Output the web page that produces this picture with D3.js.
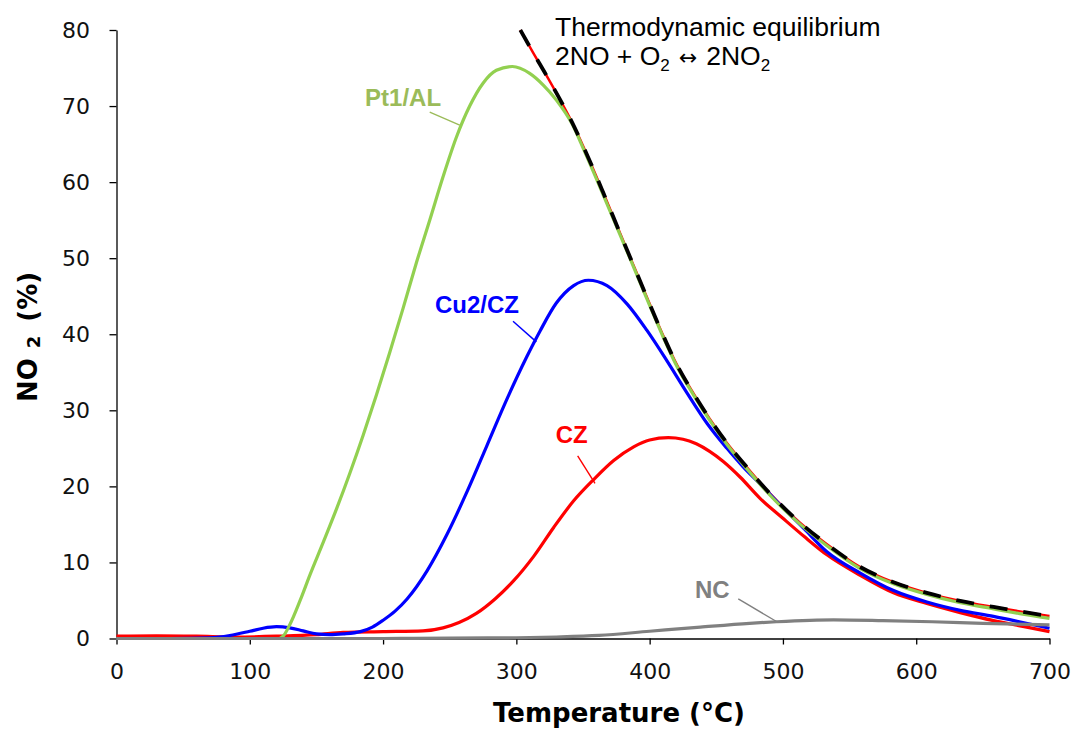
<!DOCTYPE html>
<html>
<head>
<meta charset="utf-8">
<script src="https://cdn.jsdelivr.net/npm/d3@7"></script>
<style>
  body { margin: 0; background: #fff; }
  .tick text { font-family: 'DejaVu Sans', Verdana, sans-serif; font-size: 22px; fill: #111; }
  .axis-title { font-family: 'DejaVu Sans', Verdana, sans-serif; font-weight: bold; font-size: 26px; fill: #000; }
  .series-label { font-family: 'Liberation Sans', Arial, sans-serif; font-weight: bold; font-size: 24px; }
  .note { font-family: 'Liberation Sans', Arial, sans-serif; font-size: 26.5px; fill: #000; }
</style>
</head>
<body>
<svg id="chart" width="1076" height="731"></svg>
<script>
// Tick values
const xTicks = [0, 100, 200, 300, 400, 500, 600, 700];
const yTicks = [0, 10, 20, 30, 40, 50, 60, 70, 80];

// Series: [temperature (°C), NO2 (%)]
const pt1AL = [
  [0, 0], [60, 0], [122, 0], [125, 0.3], [130, 1.8], [138, 5.1], [145, 8.3], [155, 12.6],
  [165, 17], [175, 21.7], [185, 26.7], [195, 32], [205, 37.6], [215, 43.4], [225, 49.4],
  [235, 55], [245, 60.7], [255, 65.9], [265, 70], [275, 73], [285, 74.7], [297, 75.2],
  [310, 74.3], [320, 72.8], [330, 70.8], [342, 67.6], [351, 64.1], [365, 58.4], [378, 53],
  [389, 48.4], [400, 43.8], [410, 39.7], [421, 35.6], [433, 32], [445, 28.7], [458, 25.5],
  [473, 22.3], [490, 18.9], [513, 15], [533, 12.2], [558, 9.2], [583, 7.2], [608, 5.8],
  [633, 4.7], [658, 3.9], [680, 3.2], [700, 2.65]
];

const cu2CZ = [
  [0, 0], [40, 0], [70, 0.1], [85, 0.4], [100, 0.95], [110, 1.35], [120, 1.55], [130, 1.4],
  [140, 1.0], [150, 0.6], [160, 0.5], [170, 0.6], [183, 0.9], [192, 1.5], [200, 2.4],
  [209, 3.6], [218, 5.2], [233, 8.9], [248, 13.7], [263, 19.3], [278, 25.4], [293, 31.5],
  [308, 37.1], [318, 40.5], [330, 44.1], [343, 46.4], [354, 47.1], [368, 46.4], [383, 44],
  [398, 40.5], [413, 36.5], [428, 32.3], [443, 28.3], [458, 25], [470, 22.6], [483, 20.3],
  [500, 17.2], [516, 14.4], [533, 11.4], [558, 8.6], [583, 6.3], [608, 4.8], [633, 3.7],
  [658, 2.9], [680, 2.1], [700, 1.35]
];

const cz = [
  [0, 0.3], [30, 0.35], [60, 0.3], [90, 0.2], [120, 0.3], [150, 0.5], [170, 0.8], [200, 0.9],
  [230, 1.0], [245, 1.4], [257, 2.1], [270, 3.3], [284, 5.2], [298, 7.6], [313, 10.8],
  [328, 14.6], [343, 18.1], [358, 20.9], [373, 23.4], [388, 25.2], [400, 26.1], [414, 26.4],
  [425, 26.2], [435, 25.6], [445, 24.6], [455, 23.3], [468, 21.2], [483, 18.4], [500, 15.8],
  [516, 13.4], [533, 11], [558, 8.3], [583, 6], [608, 4.6], [633, 3.4], [658, 2.35],
  [680, 1.6], [700, 0.9]
];

const nc = [
  [0, 0], [100, 0], [200, 0], [250, 0.05], [300, 0.1], [330, 0.2], [362, 0.4], [400, 0.95],
  [438, 1.5], [475, 2.0], [495, 2.2], [538, 2.45], [575, 2.35], [612, 2.2], [650, 2.0],
  [700, 1.8]
];

const equilibrium = [
  [303, 80], [312, 77.2], [322, 74.2], [332, 71.1], [342, 67.8], [351, 64.4], [365, 58.7],
  [378, 53.2], [389, 48.6], [400, 44], [410, 39.9], [421, 35.8], [433, 32.2], [445, 28.9],
  [458, 25.7], [473, 22.5], [490, 19.1], [513, 15.2], [533, 12.4], [558, 9.4], [583, 7.4],
  [608, 6.0], [633, 4.95], [658, 4.15], [680, 3.5], [700, 2.95]
];

// Series labels: name, colour, text anchor (T, %) and leader line (T, %) -> (T, %)
const seriesLabels = [
  { name: 'Pt1/AL', color: '#9BBB59', at: [215, 70], from: [235, 69.2], to: [257.5, 67.5] },
  { name: 'Cu2/CZ', color: '#0000FF', at: [270.5, 42.8], from: [297.5, 41.7], to: [315, 39] },
  { name: 'CZ', color: '#FF0000', at: [341.5, 25.7], from: [346, 24], to: [359, 20.4] },
  { name: 'NC', color: '#808080', at: [447, 5.3], from: [466.5, 5.2], to: [495.5, 2.2] }
];

const width = 1076;
const height = 731;
const margin = { left: 116.5, right: 26.5, top: 30, bottom: 92.5 };
const drawWidth = width - margin.left - margin.right;
const drawHeight = height - margin.top - margin.bottom;

const xScale = d3.scaleLinear().domain([0, 700]).range([0, drawWidth]);
const yScale = d3.scaleLinear().domain([0, 80]).range([drawHeight, 0]);

const svg = d3.select('#chart');
const g = svg.append('g').attr('transform', `translate(${margin.left},${margin.top})`);

// Axes
const xAxis = g.append('g')
  .attr('transform', `translate(0,${drawHeight})`)
  .call(d3.axisBottom(xScale).tickValues(xTicks).tickSize(6).tickSizeOuter(0).tickPadding(18.5));
const yAxis = g.append('g')
  .call(d3.axisLeft(yScale).tickValues(yTicks).tickSize(7).tickSizeOuter(0).tickPadding(19.5));

[xAxis, yAxis].forEach(a => {
  a.attr('font-family', null).attr('font-size', null);
  a.selectAll('path, line').attr('stroke', '#000').attr('stroke-width', 1.3);
});

const line = d3.line()
  .x(d => xScale(d[0]))
  .y(d => yScale(d[1]))
  .curve(d3.curveMonotoneX);

// red solid line under the equilibrium dashes
g.append('path').datum(equilibrium)
  .attr('d', line).attr('fill', 'none')
  .attr('stroke', '#FF0000').attr('stroke-width', 2.5);

const series = [
  { data: cz, color: '#FF0000' },
  { data: cu2CZ, color: '#0000FF' },
  { data: pt1AL, color: '#92D050' },
  { data: nc, color: '#808080' }
];

g.selectAll('path.series')
  .data(series)
  .enter()
  .append('path')
  .attr('class', 'series')
  .attr('d', d => line(d.data))
  .attr('fill', 'none')
  .attr('stroke', d => d.color)
  .attr('stroke-width', 3.2)
  .attr('stroke-linejoin', 'round');

// thermodynamic equilibrium, black dashed
g.append('path').datum(equilibrium)
  .attr('d', line).attr('fill', 'none')
  .attr('stroke', '#000').attr('stroke-width', 3.8)
  .attr('stroke-dasharray', '18,16');

// Leader lines and labels
g.selectAll('line.leader')
  .data(seriesLabels)
  .enter()
  .append('line')
  .attr('class', 'leader')
  .attr('x1', d => xScale(d.from[0]))
  .attr('y1', d => yScale(d.from[1]))
  .attr('x2', d => xScale(d.to[0]))
  .attr('y2', d => yScale(d.to[1]))
  .attr('stroke', d => d.color)
  .attr('stroke-width', 1.4);

g.selectAll('text.series-label')
  .data(seriesLabels)
  .enter()
  .append('text')
  .attr('class', 'series-label')
  .attr('x', d => xScale(d.at[0]))
  .attr('y', d => yScale(d.at[1]))
  .attr('text-anchor', 'middle')
  .attr('fill', d => d.color)
  .text(d => d.name);

// Equilibrium annotation
g.append('text').attr('class', 'note')
  .attr('x', xScale(329)).attr('y', yScale(79.2))
  .text('Thermodynamic equilibrium');
const note2 = g.append('text').attr('class', 'note')
  .attr('x', xScale(329)).attr('y', yScale(75.4));
note2.append('tspan').text('2NO + O');
note2.append('tspan').attr('font-size', '17px').attr('dy', 6).text('2');
note2.append('tspan').attr('dy', -6).attr('dx', 9)
  .attr('font-family', "'DejaVu Sans', sans-serif").attr('font-size', '22px').text('\u2194');
note2.append('tspan').attr('dx', 9).text('2NO');
note2.append('tspan').attr('font-size', '17px').attr('dy', 6).text('2');

// Axis titles
svg.append('text').attr('class', 'axis-title')
  .attr('x', 619).attr('y', 722)
  .attr('text-anchor', 'middle')
  .text('Temperature (\u00B0C)');

const yTitle = svg.append('text').attr('class', 'axis-title')
  .attr('transform', 'translate(37,337) rotate(-90)')
  .attr('text-anchor', 'middle')
  .attr('font-size', '28px');
yTitle.append('tspan').text('NO');
yTitle.append('tspan').attr('font-size', '18px').attr('dx', 10).attr('dy', 3).text('2');
yTitle.append('tspan').attr('dx', 14).attr('dy', -3).text('(%)');
</script>
</body>
</html>
